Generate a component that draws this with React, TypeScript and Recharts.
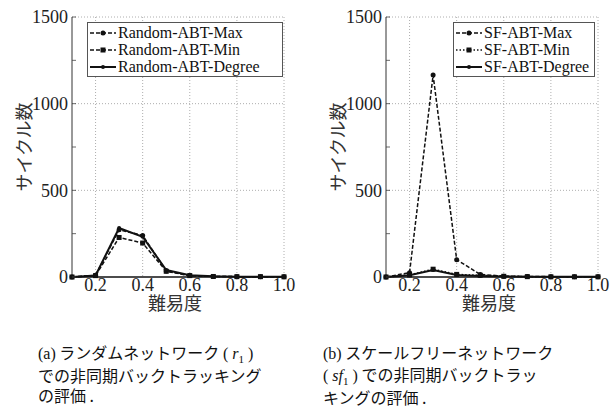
import React from 'react';
import { LineChart, Line, XAxis, YAxis, CartesianGrid } from 'recharts';

const difficulty = [0.1, 0.2, 0.3, 0.4, 0.5, 0.6, 0.7, 0.8, 0.9, 1.0];
const randomMax = [0, 10, 272, 240, 35, 8, 3, 2, 2, 1];
const randomMin = [0, 8, 228, 196, 33, 8, 3, 2, 2, 1];
const randomDegree = [0, 9, 283, 232, 40, 10, 4, 2, 2, 1];
const sfMax = [0, 25, 1165, 100, 15, 5, 3, 2, 2, 1];
const sfMin = [0, 12, 45, 15, 10, 4, 2, 1, 1, 1];
const sfDegree = [0, 10, 40, 12, 6, 3, 2, 1, 1, 1];
const yTicks = [0, 250, 500, 750, 1000, 1250, 1500];
const xTicks = [0.2, 0.4, 0.6, 0.8, 1.0];
const yGrid = [500, 1000, 1500];

const INK = '#111';
const SERIF = "'Liberation Serif', 'DejaVu Serif', serif";
const JP = "'Noto Sans CJK JP', sans-serif";

const buildRows = (max: number[], min: number[], degree: number[]) =>
  difficulty.map((d, i) => ({ d, max: max[i], min: min[i], degree: degree[i] }));

const roundDot = (r: number) => (p: any) => (
  <circle key={`c-${r}-${p.index}`} cx={p.cx} cy={p.cy} r={r} fill={INK} stroke="none" />
);
const squareDot = (p: any) => (
  <rect key={`s-${p.index}`} x={p.cx - 2.5} y={p.cy - 2.5} width={5} height={5} fill={INK} />
);

const YTick = (props: any) => {
  const { x, y, payload } = props;
  const v = payload.value;
  const axisX = x + 4;
  return (
    <g>
      <line x1={axisX} x2={axisX + 4} y1={y} y2={y} stroke="#444" strokeWidth={0.8} />
      {v % 500 === 0 && (
        <text x={x} y={y} dy="0.35em" textAnchor="end" style={{ fontFamily: SERIF }} fontSize={18} fill="#222">
          {v}
        </text>
      )}
    </g>
  );
};

const XTick = (props: any) => {
  const { x, y, payload } = props;
  return (
    <text x={x} y={y} dy="0.72em" textAnchor="middle" style={{ fontFamily: SERIF }} fontSize={18} fill="#222">
      {payload.value.toFixed(1)}
    </text>
  );
};

type Item = { name: string; dash?: string; marker: 'round' | 'square' | 'small'; width: number };

const LegendBox = ({ items, width, left }: { items: Item[]; width: number; left: number }) => (
  <div
    style={{
      position: 'absolute',
      left,
      top: 22,
      width,
      boxSizing: 'border-box',
      border: '1px solid #555',
      background: '#fff',
      padding: '1px 2px',
      fontFamily: SERIF,
      fontSize: 16,
      lineHeight: '17px',
      color: '#111',
    }}
  >
    {items.map((it) => (
      <div key={it.name} style={{ display: 'flex', alignItems: 'center', whiteSpace: 'nowrap' }}>
        <svg width={26} height={10} style={{ marginRight: 2, flex: 'none' }}>
          <line x1={0} x2={26} y1={5} y2={5} stroke={INK} strokeWidth={it.width} strokeDasharray={it.dash} />
          {it.marker === 'square' ? (
            <rect x={10.5} y={2.5} width={5} height={5} fill={INK} />
          ) : (
            <circle cx={13} cy={5} r={it.marker === 'round' ? 2.5 : 2} fill={INK} />
          )}
        </svg>
        <span>{it.name}</span>
      </div>
    ))}
  </div>
);

type PanelProps = {
  rows: ReturnType<typeof buildRows>;
  items: Item[];
  minDash: string;
};

const Panel = ({ rows, items, minDash }: PanelProps) => (
  <LineChart width={296} height={310} data={rows} margin={{ top: 17, right: 12, bottom: 3, left: 10 }}>
    <CartesianGrid
      horizontalValues={yGrid}
      verticalValues={xTicks}
      stroke="#999"
      strokeDasharray="1 2"
      strokeWidth={0.8}
    />
    <XAxis
      dataKey="d"
      type="number"
      domain={[0.1, 1.0]}
      ticks={xTicks}
      interval={0}
      height={30}
      tickSize={0}
      tickMargin={1}
      tickLine={false}
      tick={<XTick />}
      axisLine={{ stroke: INK, strokeWidth: 1.5 }}
    />
    <YAxis
      type="number"
      domain={[0, 1500]}
      ticks={yTicks}
      interval={0}
      width={62}
      tickSize={0}
      tickMargin={4}
      tickLine={false}
      tick={<YTick />}
      axisLine={{ stroke: '#333', strokeWidth: 1 }}
    />
    <Line
      dataKey="max"
      name={items[0].name}
      type="linear"
      stroke={INK}
      strokeWidth={1.5}
      strokeDasharray="4 2"
      dot={roundDot(2.5)}
      isAnimationActive={false}
    />
    <Line
      dataKey="min"
      name={items[1].name}
      type="linear"
      stroke={INK}
      strokeWidth={1.5}
      strokeDasharray={minDash}
      dot={squareDot}
      isAnimationActive={false}
    />
    <Line
      dataKey="degree"
      name={items[2].name}
      type="linear"
      stroke={INK}
      strokeWidth={2}
      dot={roundDot(2)}
      isAnimationActive={false}
    />
  </LineChart>
);

const randomItems: Item[] = [
  { name: 'Random-ABT-Max', dash: '4 2', marker: 'round', width: 1.5 },
  { name: 'Random-ABT-Min', dash: '4 2', marker: 'square', width: 1.5 },
  { name: 'Random-ABT-Degree', marker: 'small', width: 2 },
];
const sfItems: Item[] = [
  { name: 'SF-ABT-Max', dash: '4 2', marker: 'round', width: 1.5 },
  { name: 'SF-ABT-Min', dash: '1.5 2', marker: 'square', width: 1.5 },
  { name: 'SF-ABT-Degree', marker: 'small', width: 2 },
];

const serif = { fontFamily: SERIF };
const subStyle: React.CSSProperties = { fontFamily: SERIF, fontSize: 11, position: 'relative', top: 4 };

const AxisTitles = ({ left }: { left: number }) => (
  <>
    <div
      style={{
        position: 'absolute',
        left: left + 23 - 50,
        top: 147 - 11,
        width: 100,
        height: 22,
        lineHeight: '22px',
        textAlign: 'center',
        transform: 'rotate(-90deg)',
        fontFamily: JP,
        fontSize: 18,
        color: '#333',
      }}
    >
      サイクル数
    </div>
    <div
      style={{
        position: 'absolute',
        left: left + 175 - 40,
        top: 293,
        width: 80,
        lineHeight: '18px',
        textAlign: 'center',
        fontFamily: JP,
        fontSize: 18,
        color: '#333',
      }}
    >
      難易度
    </div>
  </>
);

export default function App() {
  return (
    <div style={{ position: 'absolute', left: 0, top: 0, width: 610, height: 416, background: '#fff', overflow: 'hidden' }}>
      <div style={{ position: 'absolute', left: 0, top: 0 }}>
        <Panel rows={buildRows(randomMax, randomMin, randomDegree)} items={randomItems} minDash="4 2" />
      </div>
      <div style={{ position: 'absolute', left: 314, top: 0 }}>
        <Panel rows={buildRows(sfMax, sfMin, sfDegree)} items={sfItems} minDash="1.5 2" />
      </div>
      <AxisTitles left={0} />
      <AxisTitles left={314} />
      <LegendBox items={randomItems} width={196} left={87} />
      <LegendBox items={sfItems} width={142} left={453} />
      <div style={{ position: 'absolute', left: 38, top: 342, fontFamily: JP, fontSize: 16, lineHeight: '20px', color: '#111', whiteSpace: 'nowrap' }}>
        <div>
          <span style={serif}>(a)</span> ランダムネットワーク <span style={serif}>( </span>
          <i style={serif}>r</i>
          <span style={subStyle}>1</span>
          <span style={serif}> )</span>
        </div>
        <div>での非同期バックトラッキング</div>
        <div>の評価 .</div>
      </div>
      <div style={{ position: 'absolute', left: 323, top: 342, fontFamily: JP, fontSize: 16, lineHeight: '20px', color: '#111', whiteSpace: 'nowrap' }}>
        <div>
          {' '}<span style={serif}>(b)</span> スケールフリーネットワーク
        </div>
        <div>
          <span style={serif}>( </span>
          <i style={serif}>sf</i>
          <span style={subStyle}>1</span>
          <span style={serif}> )</span> での非同期バックトラッ
        </div>
        <div>キングの評価 .</div>
      </div>
    </div>
  );
}
